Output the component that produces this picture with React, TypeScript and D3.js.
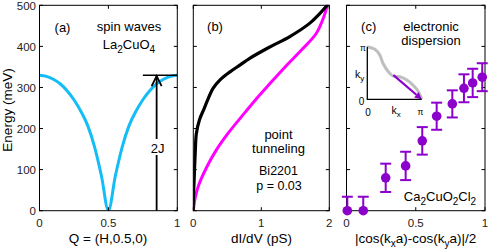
import React from "react";
import * as d3 from "d3";

// ---------- data ----------
const energyTicks = [0, 100, 200, 300, 400, 500];
const aTickVals = [0, 0.5, 1];
const aTickLabels = ["0", "0.5", "1"];
const bTickVals = [0, 1, 2];
const bTickLabels = ["0", "1", "2"];
const cTickVals = [0, 0.5, 1];
const cTickLabels = ["0", "0.5", "1"];

// (a) spin waves
const spinH = [0, 0.05, 0.1, 0.15, 0.2, 0.25, 0.3, 0.35, 0.4, 0.45, 0.5, 0.55, 0.6, 0.65, 0.7, 0.75, 0.8, 0.85, 0.9, 0.95, 1];
const spinE = [330, 327, 320, 309, 292, 270, 242, 207, 155, 84, 0, 84, 155, 207, 242, 270, 292, 309, 320, 327, 330];
const twoJ = 330;
const arrowH = 0.85;
const barH0 = 0.75;

// (b) point tunneling
const blackE = [0, 24, 65, 148, 188, 221, 245, 269, 298, 318, 338, 355, 371, 399, 424, 456, 480, 500];
const blackG = [0, 0.0, 0.01, 0.03, 0.045, 0.09, 0.15, 0.21, 0.29, 0.39, 0.54, 0.69, 0.83, 1.13, 1.42, 1.71, 1.86, 1.97];
const magE = [0, 24, 58, 107, 148, 188, 229, 269, 310, 350, 391, 432, 472, 500];
const magG = [0, 0.02, 0.07, 0.2, 0.34, 0.51, 0.71, 0.91, 1.13, 1.35, 1.59, 1.81, 1.92, 1.97];

// (c) electronic dispersion
const arpesX = [0.006, 0.121, 0.283, 0.427, 0.547, 0.651, 0.764, 0.848, 0.911, 0.98];
const arpesE = [0, 0, 80, 109, 170, 230, 260, 298, 311, 325];
const arpesErr = [34, 34, 34.5, 34.5, 33.5, 33, 33, 34, 34.5, 34];

// inset (units of pi)
const insetKx = [0, 0.14, 0.23, 0.29, 0.39, 0.48, 0.6, 0.72, 0.84, 0.94, 1];
const insetKy = [1, 0.95, 0.84, 0.68, 0.52, 0.44, 0.43, 0.37, 0.27, 0.145, 0];
const insetArrowKx = [0.48, 1];
const insetArrowKy = [0.46, 0];

// ---------- styles ----------
const FONT = "'Liberation Sans', Arial, Helvetica, sans-serif";
const TICK_FS = 11.5;
const LABEL_FS = 13.5;
const ANN_FS = 13;
const CYAN = "#14bdf5";
const MAGENTA = "#ff00ff";
const PURPLE = "#8c00cc";
const GRAY = "#bfbfbf";

const TOP = 5.3;
const BOTTOM = 210.7;
const yScale = d3.scaleLinear().domain([0, 500]).range([BOTTOM, TOP]);
const xA = d3.scaleLinear().domain([0, 1]).range([39.5, 177.3]);
const xB = d3.scaleLinear().domain([0, 2]).range([193.3, 329.3]);
const xC = d3.scaleLinear().domain([0, 1]).range([346.5, 485]);
const ixS = d3.scaleLinear().domain([0, 1]).range([367.3, 421.7]);
const iyS = d3.scaleLinear().domain([0, 1]).range([99.3, 46.7]);

const TL = 3.5;

function Frame({ x, xVals, xLabels, showY }: any) {
  const [x0, x1] = x.range();
  return (
    <g>
      <rect x={x0} y={TOP} width={x1 - x0} height={BOTTOM - TOP} fill="none" stroke="#000" strokeWidth={1} />
      {energyTicks.map((t) => (
        <g key={"y" + t}>
          <line x1={x0} x2={x0 + TL} y1={yScale(t)} y2={yScale(t)} stroke="#000" />
          <line x1={x1} x2={x1 - TL} y1={yScale(t)} y2={yScale(t)} stroke="#000" />
          {showY && (
            <text x={x0 - 3.5} y={yScale(t) + 4.3} textAnchor="end" fontSize={TICK_FS} fontFamily={FONT} fill="#222">
              {t}
            </text>
          )}
        </g>
      ))}
      {xVals.map((v: number, i: number) => (
        <g key={"x" + i}>
          <line x1={x(v)} x2={x(v)} y1={BOTTOM} y2={BOTTOM - TL} stroke="#000" />
          <line x1={x(v)} x2={x(v)} y1={TOP} y2={TOP + TL} stroke="#000" />
          <text x={x(v)} y={226.7} textAnchor="middle" fontSize={TICK_FS} fontFamily={FONT} fill="#222">
            {xLabels[i]}
          </text>
        </g>
      ))}
    </g>
  );
}

export default function App() {
  const spinLine = d3
    .line<number>()
    .x((_, i) => xA(spinH[i]))
    .y((d) => yScale(d))
    .curve(d3.curveMonotoneX)(spinE) as string;

  const blackLine = d3
    .line<number>()
    .x((_, i) => xB(blackG[i]))
    .y((d) => yScale(d))
    .curve(d3.curveCatmullRom)(blackE) as string;
  const magLine = d3
    .line<number>()
    .x((_, i) => xB(magG[i]))
    .y((d) => yScale(d))
    .curve(d3.curveCatmullRom)(magE) as string;

  const insetLine = d3
    .line<number>()
    .x((_, i) => ixS(insetKx[i]))
    .y((d) => iyS(d))
    .curve(d3.curveCatmullRom)(insetKy) as string;

  // inset arrow
  const ax0 = ixS(insetArrowKx[0]);
  const ay0 = iyS(insetArrowKy[0]);
  const ax1 = ixS(insetArrowKx[1]);
  const ay1 = iyS(insetArrowKy[1]);
  const ang = Math.atan2(ay1 - ay0, ax1 - ax0);
  const hl = 7, hw = 3.5;
  const bx = ax1 - hl * Math.cos(ang);
  const by = ay1 - hl * Math.sin(ang);
  const head = `M${ax1},${ay1} L${bx - hw * Math.sin(ang)},${by + hw * Math.cos(ang)} L${bx + hw * Math.sin(ang)},${by - hw * Math.cos(ang)} Z`;

  const arX = xA(arrowH);
  const arTop = yScale(twoJ);

  return (
    <svg width={490} height={252} style={{ position: "absolute", left: 0, top: 0, background: "#fff" }}>
      <defs>
        <clipPath id="clipA">
          <rect x={39.5} y={TOP} width={177.3 - 39.5} height={BOTTOM - TOP} />
        </clipPath>
        <clipPath id="clipB">
          <rect x={193.3} y={TOP} width={329.3 - 193.3} height={BOTTOM - TOP} />
        </clipPath>
      </defs>

      {/* ---------- panel (a) ---------- */}
      <path d={spinLine} fill="none" stroke={CYAN} strokeWidth={3} clipPath="url(#clipA)" />
      <line x1={xA(barH0)} x2={xA(1)} y1={arTop} y2={arTop} stroke="#000" strokeWidth={1.5} />
      <line x1={arX} x2={arX} y1={BOTTOM} y2={arTop + 1} stroke="#000" strokeWidth={1.8} />
      <path d={`M${arX - 5},${arTop + 11} L${arX},${arTop + 1} L${arX + 5},${arTop + 11}`} fill="none" stroke="#000" strokeWidth={1.8} />
      <rect x={arX - 8} y={139} width={17} height={16} fill="#fff" />
      <text x={arX + 1} y={152.8} textAnchor="middle" fontSize={ANN_FS} fontFamily={FONT}>2J</text>
      <Frame x={xA} xVals={aTickVals} xLabels={aTickLabels} showY={true} />
      <text x={62.5} y={31.5} textAnchor="middle" fontSize={ANN_FS} fontFamily={FONT}>(a)</text>
      <text x={129} y={31} textAnchor="middle" fontSize={ANN_FS} fontFamily={FONT}>spin waves</text>
      <text x={129} y={49} textAnchor="middle" fontSize={ANN_FS} fontFamily={FONT}>
        La<tspan fontSize={10} dy={4}>2</tspan><tspan dy={-4}>CuO</tspan><tspan fontSize={10} dy={4}>4</tspan>
      </text>
      <text x={108} y={243} textAnchor="middle" fontSize={LABEL_FS} fontFamily={FONT}>Q = (H,0.5,0)</text>
      <text transform="translate(11.5,110) rotate(-90)" textAnchor="middle" fontSize={LABEL_FS} fontFamily={FONT}>Energy  (meV)</text>

      {/* ---------- panel (b) ---------- */}
      <g clipPath="url(#clipB)">
        <path d={magLine} fill="none" stroke={MAGENTA} strokeWidth={3} />
        <path d={blackLine} fill="none" stroke="#000" strokeWidth={3.2} />
      </g>
      <Frame x={xB} xVals={bTickVals} xLabels={bTickLabels} showY={false} />
      <text x={215} y={31} textAnchor="middle" fontSize={ANN_FS} fontFamily={FONT}>(b)</text>
      <text x={278.5} y={139} textAnchor="middle" fontSize={ANN_FS} fontFamily={FONT}>point</text>
      <text x={278.5} y={153} textAnchor="middle" fontSize={ANN_FS} fontFamily={FONT}>tunneling</text>
      <text x={278.5} y={174.5} textAnchor="middle" fontSize={12.5} fontFamily={FONT}>Bi2201</text>
      <text x={279} y={189.5} textAnchor="middle" fontSize={12.5} fontFamily={FONT}>p = 0.03</text>
      <text x={261.5} y={243} textAnchor="middle" fontSize={LABEL_FS} fontFamily={FONT}>dI/dV  (pS)</text>

      {/* ---------- panel (c) ---------- */}
      <Frame x={xC} xVals={cTickVals} xLabels={cTickLabels} showY={false} />
      {arpesX.map((v, i) => {
        const cx = xC(v);
        const lo = yScale(Math.max(arpesE[i] - arpesErr[i], 0));
        const hi = yScale(arpesE[i] + arpesErr[i]);
        return (
          <g key={"p" + i}>
            <line x1={cx} x2={cx} y1={lo} y2={hi} stroke={PURPLE} strokeWidth={2} />
            <line x1={cx - 5.5} x2={cx + 5.5} y1={hi} y2={hi} stroke={PURPLE} strokeWidth={2} />
            {arpesE[i] - arpesErr[i] > 0 && (
              <line x1={cx - 5.5} x2={cx + 5.5} y1={lo} y2={lo} stroke={PURPLE} strokeWidth={2} />
            )}
            <circle cx={cx} cy={yScale(arpesE[i])} r={4.8} fill={PURPLE} />
          </g>
        );
      })}
      <text x={368.7} y={31} textAnchor="middle" fontSize={ANN_FS} fontFamily={FONT}>(c)</text>
      <text x={431} y={31} textAnchor="middle" fontSize={ANN_FS} fontFamily={FONT}>electronic</text>
      <text x={431} y={45} textAnchor="middle" fontSize={ANN_FS} fontFamily={FONT}>dispersion</text>
      <text x={440} y={201} textAnchor="middle" fontSize={ANN_FS} fontFamily={FONT}>
        Ca<tspan fontSize={10} dy={4}>2</tspan><tspan dy={-4}>CuO</tspan><tspan fontSize={10} dy={4}>2</tspan><tspan dy={-4}>Cl</tspan><tspan fontSize={10} dy={4}>2</tspan>
      </text>
      <text x={415.7} y={243} textAnchor="middle" fontSize={LABEL_FS} fontFamily={FONT}>
        |cos(k<tspan fontSize={10} dy={4}>x</tspan><tspan dy={-4}>a)-cos(k</tspan><tspan fontSize={10} dy={4}>y</tspan><tspan dy={-4}>a)|/2</tspan>
      </text>

      {/* inset */}
      <path d={insetLine} fill="none" stroke={GRAY} strokeWidth={3} />
      <line x1={ax0} y1={ay0} x2={bx} y2={by} stroke={PURPLE} strokeWidth={2.2} />
      <path d={head} fill={PURPLE} />
      <path d={`M${ixS(0)},${iyS(1)} L${ixS(0)},${iyS(0)} L${ixS(1)},${iyS(0)}`} fill="none" stroke="#000" strokeWidth={1.3} />
      <text x={363} y={50.5} textAnchor="middle" fontSize={8.5} fontFamily={FONT}>π</text>
      <text x={361.5} y={104.5} textAnchor="middle" fontSize={10} fontFamily={FONT}>0</text>
      <text x={359.5} y={78} textAnchor="middle" fontSize={10.5} fontFamily={FONT}>k<tspan fontSize={8} dy={3}>y</tspan></text>
      <text x={368} y={115.5} textAnchor="middle" fontSize={10} fontFamily={FONT}>0</text>
      <text x={396} y={114} textAnchor="middle" fontSize={10.5} fontFamily={FONT}>k<tspan fontSize={8} dy={3}>x</tspan></text>
      <text x={420.5} y={114.5} textAnchor="middle" fontSize={8.5} fontFamily={FONT}>π</text>
    </svg>
  );
}
